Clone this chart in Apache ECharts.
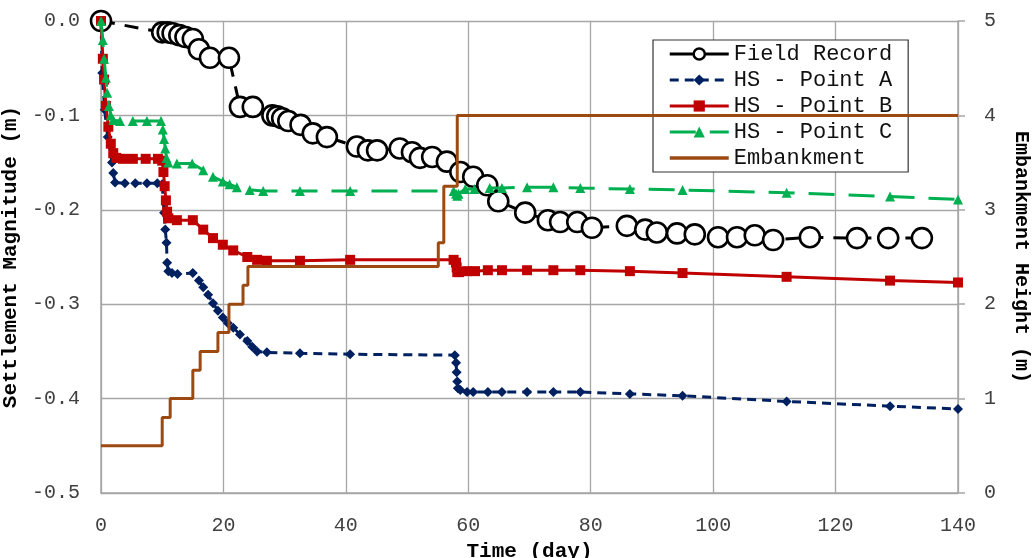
<!DOCTYPE html>
<html>
<head>
<meta charset="utf-8">
<script src="https://cdn.jsdelivr.net/npm/echarts@6/dist/echarts.min.js"></script>
<style>html,body{margin:0;padding:0;background:#fff}#c{width:1034px;height:558px}</style>
</head>
<body>
<div id="c"></div>
<script>
// ---- data ----
const fieldDays = [0,10.0,10.9,11.7,12.8,13.8,15.0,16.0,17.8,20.9,22.7,24.8,28.0,28.8,29.6,30.6,32.6,34.6,36.9,41.8,43.6,45.1,48.8,50.8,52.1,54.1,56.5,58.7,60.8,63.1,64.9,69.3,73.0,75.0,77.8,80.2,85.9,88.9,90.8,94.1,97.0,100.8,103.9,106.8,109.8,115.8,123.5,128.6,134.1];
const fieldVals = [0,-0.012,-0.012,-0.013,-0.015,-0.017,-0.019,-0.030,-0.039,-0.039,-0.091,-0.091,-0.100,-0.101,-0.103,-0.106,-0.110,-0.119,-0.123,-0.133,-0.137,-0.137,-0.135,-0.139,-0.145,-0.144,-0.149,-0.160,-0.165,-0.174,-0.191,-0.203,-0.211,-0.213,-0.213,-0.219,-0.217,-0.221,-0.224,-0.225,-0.226,-0.229,-0.229,-0.227,-0.232,-0.229,-0.230,-0.230,-0.230];

const aDays = [0,0.2,0.6,1.1,1.8,2.0,2.3,3.9,5.6,7.5,9.2,10.0,10.3,10.5,10.7,10.8,11.0,11.6,12.5,15.0,16.0,16.7,17.5,18.3,19.1,19.9,20.7,21.6,22.7,23.9,24.7,25.5,27.1,32.5,40.7,57.8,58.0,58.1,58.2,58.3,58.7,59.8,60.8,63.2,65.5,69.6,73.9,78.3,86.4,95.0,112.0,128.9,140];
const aVals = [0,-0.055,-0.094,-0.123,-0.150,-0.161,-0.171,-0.172,-0.172,-0.172,-0.172,-0.173,-0.203,-0.221,-0.235,-0.256,-0.265,-0.267,-0.268,-0.267,-0.275,-0.282,-0.290,-0.299,-0.307,-0.314,-0.320,-0.325,-0.332,-0.339,-0.345,-0.350,-0.351,-0.352,-0.353,-0.354,-0.362,-0.372,-0.382,-0.389,-0.391,-0.393,-0.393,-0.393,-0.393,-0.393,-0.393,-0.393,-0.395,-0.397,-0.403,-0.408,-0.411];

const bDays = [0,0.3,0.5,0.8,1.2,1.6,2.0,2.5,3.6,5.2,7.3,9.3,10.0,10.2,10.4,10.6,10.8,11.0,12.4,15.0,16.7,18.3,19.9,21.6,23.9,25.5,27.1,32.5,40.7,57.6,58.0,58.1,58.2,58.5,59.8,61.1,63.2,65.5,69.6,73.9,78.3,86.4,95.0,112.0,128.9,140];
const bVals = [0,-0.040,-0.062,-0.090,-0.112,-0.130,-0.140,-0.145,-0.146,-0.146,-0.146,-0.146,-0.148,-0.160,-0.175,-0.190,-0.202,-0.209,-0.211,-0.211,-0.221,-0.230,-0.237,-0.243,-0.250,-0.253,-0.254,-0.254,-0.253,-0.253,-0.256,-0.261,-0.266,-0.266,-0.265,-0.265,-0.264,-0.264,-0.264,-0.264,-0.264,-0.265,-0.267,-0.271,-0.275,-0.277];

const cDays = [0,0.3,0.5,0.8,1.0,1.3,1.6,2.0,3.1,5.2,7.5,9.8,10.1,10.3,10.5,10.7,11.0,12.4,14.9,16.7,18.3,19.9,21.0,22.2,24.3,26.5,32.5,40.7,57.6,58.0,58.2,58.4,59.5,61.0,63.5,65.5,69.6,73.9,78.3,86.4,95.0,112.0,128.9,140];
const cVals = [0,-0.020,-0.040,-0.060,-0.076,-0.090,-0.100,-0.105,-0.106,-0.106,-0.106,-0.106,-0.115,-0.125,-0.135,-0.145,-0.150,-0.151,-0.151,-0.158,-0.165,-0.170,-0.173,-0.176,-0.179,-0.180,-0.180,-0.180,-0.180,-0.183,-0.185,-0.183,-0.178,-0.178,-0.177,-0.177,-0.176,-0.176,-0.177,-0.178,-0.179,-0.182,-0.186,-0.189];

const embDays = [0,10,11.3,15,16.2,19.1,20.9,23.2,24,55.1,56,58.2,140];
const embHeights = [0.5,0.8,1.0,1.3,1.5,1.7,2.0,2.2,2.4,2.65,3.25,4.0,4.0];

const xTicks = {min:0, max:140, interval:20};
const yLeftTicks = {min:-0.5, max:0, interval:0.1};
const yRightTicks = {min:0, max:5, interval:1};

const seriesNames = ['Field Record','HS - Point A','HS - Point B','HS - Point C','Embankment'];
// ---------------------------------------

const zip = (xs, ys) => xs.map((x, i) => [x, ys[i]]);
const FONT = 'Liberation Mono, Courier New, monospace';
const GRID = '#a6a6a6';

const chart = echarts.init(document.getElementById('c'), null, {renderer: 'canvas'});
chart.setOption({
  animation: false,
  backgroundColor: '#fff',
  grid: {left: 101, right: 76, top: 21, bottom: 65, containLabel: false, outerBoundsMode: 'none'},
  legend: {
    data: [
      {name: seriesNames[0], itemStyle: {color: '#fff', borderColor: '#000', borderWidth: 2.5}, lineStyle: {type: 'solid', width: 3}},
      {name: seriesNames[1], lineStyle: {width: 3}},
      {name: seriesNames[2], lineStyle: {width: 3}},
      {name: seriesNames[3], lineStyle: {width: 3}},
      {name: seriesNames[4], itemStyle: {opacity: 0}, lineStyle: {width: 3.5}}
    ],
    orient: 'vertical',
    left: 653, top: 40,
    padding: [3, 16, 3, 15],
    itemWidth: 59, itemHeight: 14, itemGap: 4,
    backgroundColor: '#fff',
    borderColor: '#333', borderWidth: 1.2,
    lineStyle: {width: 3},
    textStyle: {fontFamily: FONT, fontSize: 22, lineHeight: 22, color: '#111'}
  },
  xAxis: {
    type: 'value', min: xTicks.min, max: xTicks.max, interval: xTicks.interval,
    name: 'Time (day)', nameLocation: 'middle', nameGap: 48,
    nameTextStyle: {fontFamily: FONT, fontSize: 21, fontWeight: 'bold', color: '#000'},
    axisLine: {show: true, onZero: false, lineStyle: {color: GRID, width: 1.5}},
    axisTick: {show: false},
    axisLabel: {margin: 23, fontFamily: FONT, fontSize: 20, color: '#404040'},
    splitLine: {show: true, lineStyle: {color: GRID, width: 1.3}}
  },
  yAxis: [{
    type: 'value', position: 'left', min: yLeftTicks.min, max: yLeftTicks.max, interval: yLeftTicks.interval,
    name: 'Settlement Magnitude (m)', nameLocation: 'middle', nameGap: 72,
    nameTextStyle: {fontFamily: FONT, fontSize: 21, fontWeight: 'bold', color: '#000'},
    axisLine: {show: true, onZero: false, lineStyle: {color: GRID, width: 1.5}},
    axisTick: {show: false},
    axisLabel: {margin: 21, fontFamily: FONT, fontSize: 20, color: '#404040', formatter: v => v.toFixed(1)},
    splitLine: {show: true, lineStyle: {color: GRID, width: 1.3}}
  }, {
    type: 'value', position: 'right', min: yRightTicks.min, max: yRightTicks.max, interval: yRightTicks.interval,
    name: 'Embankment Height (m)', nameLocation: 'middle', nameGap: 53, nameRotate: -90,
    nameTextStyle: {fontFamily: FONT, fontSize: 20, fontWeight: 'bold', color: '#000'},
    axisLine: {show: true, onZero: false, lineStyle: {color: GRID, width: 1.5}},
    axisTick: {show: true, length: 7, lineStyle: {color: GRID, width: 1.5}},
    axisLabel: {margin: 26, fontFamily: FONT, fontSize: 20, color: '#404040'},
    splitLine: {show: false}
  }],
  series: [{
    name: seriesNames[0], type: 'line', yAxisIndex: 0,
    data: zip(fieldDays, fieldVals),
    symbol: 'circle', symbolSize: 20, showAllSymbol: true,
    lineStyle: {color: '#000', width: 3, type: [14, 10]},
    itemStyle: {color: '#fff', borderColor: '#000', borderWidth: 2.6},
    z: 2
  }, {
    name: seriesNames[1], type: 'line', yAxisIndex: 0,
    data: zip(aDays, aVals),
    symbol: 'diamond', symbolSize: 10, showAllSymbol: true,
    lineStyle: {color: '#002060', width: 3, type: [9, 6]},
    itemStyle: {color: '#002060'},
    z: 3
  }, {
    name: seriesNames[2], type: 'line', yAxisIndex: 0,
    data: zip(bDays, bVals),
    symbol: 'rect', symbolSize: 10, showAllSymbol: true,
    lineStyle: {color: '#c00000', width: 3},
    itemStyle: {color: '#c00000'},
    z: 4
  }, {
    name: seriesNames[3], type: 'line', yAxisIndex: 0,
    data: zip(cDays, cVals),
    symbol: 'triangle', symbolSize: 10, showAllSymbol: true,
    lineStyle: {color: '#00b050', width: 3, type: [26, 14]},
    itemStyle: {color: '#00b050'},
    z: 5
  }, {
    name: seriesNames[4], type: 'line', yAxisIndex: 1,
    data: zip(embDays, embHeights),
    step: 'end', symbol: 'none',
    lineStyle: {color: '#9c4a12', width: 3},
    itemStyle: {color: '#9c4a12'},
    z: 6
  }]
});
</script>
</body>
</html>
